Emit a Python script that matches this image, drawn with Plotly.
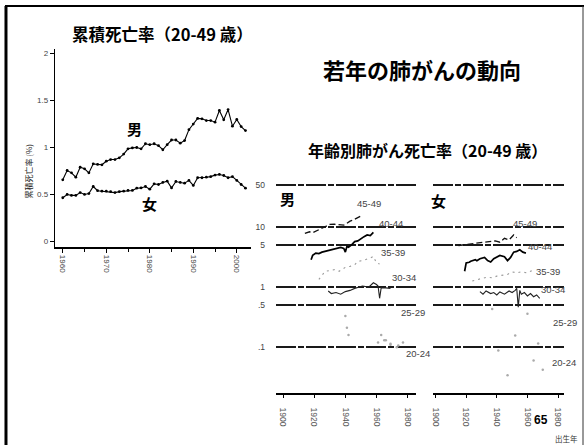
import math
import plotly.graph_objects as go

W, H = 585, 445

# ---------------- data ----------------
# Left chart: cumulative mortality (20-49 years), %
years = list(range(1960, 2003))
male_cum = [0.656, 0.755, 0.73, 0.684, 0.79, 0.773, 0.73, 0.826, 0.82, 0.816,
            0.854, 0.872, 0.872, 0.89, 0.93, 0.986, 0.996, 1.0, 0.986, 1.04,
            1.03, 1.04, 1.02, 0.976, 1.03, 1.08, 1.08, 1.046, 1.074, 1.19,
            1.25, 1.31, 1.305, 1.287, 1.287, 1.27, 1.394, 1.295, 1.404, 1.227,
            1.298, 1.223, 1.18]
female_cum = [0.465, 0.5, 0.49, 0.49, 0.52, 0.5, 0.51, 0.585, 0.54, 0.535,
              0.535, 0.53, 0.52, 0.53, 0.535, 0.543, 0.543, 0.567, 0.57, 0.585,
              0.556, 0.613, 0.606, 0.628, 0.642, 0.57, 0.638, 0.628, 0.62, 0.65,
              0.596, 0.678, 0.678, 0.684, 0.69, 0.706, 0.713, 0.702, 0.678, 0.69,
              0.65, 0.606, 0.567]
left_yticks = [0, 0.5, 1, 1.5, 2]
left_yticktext = ["0", "0.5", "1", "1.5", "2"]
left_xticks = [1960, 1970, 1980, 1990, 2000]

# Right chart: age-specific lung cancer mortality by birth year (log scale)
m45_x = [1914, 1917, 1919, 1921, 1924, 1927, 1930, 1933, 1936, 1939, 1941, 1943, 1945, 1947, 1949, 1951]
m45_y = [7.8, 8.3, 8.0, 8.5, 9.2, 10.1, 11.0, 11.1, 11.0, 10.7, 11.5, 12.5, 13.0, 13.8, 14.5, 15.7]
m40_x = [1918, 1919, 1921, 1923, 1925, 1928, 1931, 1934, 1937, 1939, 1940, 1941, 1942, 1944, 1946, 1948, 1950, 1952, 1954, 1956, 1958]
m40_y = [2.85, 3.36, 3.67, 3.6, 3.81, 4.0, 4.17, 4.44, 4.55, 4.4, 3.81, 4.72, 4.6, 5.03, 5.7, 5.86, 6.48, 6.9, 7.35, 7.2, 8.13]
m35_x = [1923, 1927, 1930, 1933, 1936, 1940, 1943, 1946, 1948, 1951, 1956, 1958, 1960, 1962]
m35_y = [1.34, 1.83, 1.88, 1.95, 1.83, 2.13, 2.21, 2.36, 2.68, 2.75, 3.04, 3.24, 2.51, 2.42]
m30_x = [1929, 1931, 1934, 1937, 1940, 1943, 1946, 1949, 1951, 1955, 1958, 1960, 1961, 1962, 1963, 1966, 1969]
m30_y = [0.86, 0.78, 0.81, 0.76, 0.84, 0.88, 0.95, 1.0, 1.04, 1.0, 1.18, 1.1, 1.04, 0.65, 0.97, 0.97, 0.95]
m25_x = [1940, 1941, 1942, 1963, 1966, 1969, 1974]
m25_y = [0.33, 0.21, 0.16, 0.16, 0.13, 0.114, 0.107]
m20_x = [1961, 1965, 1969, 1973, 1977]
m20_y = [0.12, 0.13, 0.11, 0.1, 0.12]

f45_x = [1915, 1918, 1921, 1924, 1929, 1932, 1935, 1939, 1942, 1945, 1948, 1951, 1953]
f45_y = [4.91, 5.03, 5.2, 5.36, 5.5, 5.6, 5.71, 5.86, 5.57, 6.48, 6.08, 7.35, 6.6]
f40_x = [1919, 1920, 1922, 1923, 1926, 1927, 1929, 1932, 1934, 1936, 1938, 1940, 1942, 1945, 1947, 1949, 1951, 1953, 1955, 1957, 1959]
f40_y = [1.83, 2.51, 2.58, 2.68, 2.85, 2.75, 2.96, 3.11, 2.75, 2.61, 2.96, 3.11, 3.36, 3.19, 2.75, 3.11, 3.81, 3.91, 4.17, 3.81, 3.67]
f35_x = [1924, 1927, 1930, 1934, 1937, 1940, 1943, 1947, 1950, 1953, 1956, 1960, 1963]
f35_y = [1.26, 1.34, 1.39, 1.46, 1.42, 1.52, 1.58, 1.62, 1.79, 1.72, 1.79, 1.72, 1.88]
f30_x = [1929, 1931, 1933, 1936, 1938, 1940, 1942, 1945, 1948, 1950, 1952, 1953, 1954, 1955, 1956, 1958, 1960, 1962, 1964, 1966, 1968]
f30_y = [0.84, 0.76, 0.86, 0.78, 0.81, 0.74, 0.83, 0.76, 0.86, 0.81, 0.88, 0.95, 0.46, 0.88, 0.76, 0.81, 0.71, 0.78, 0.69, 0.74, 0.65]
f25_x = [1937, 1941, 1952, 1960, 1967]
f25_y = [0.43, 0.088, 0.156, 0.36, 0.115]
f20_x = [1947, 1964, 1970]
f20_y = [0.034, 0.06, 0.042]

right_yticks = [50, 10, 5, 1, 0.5, 0.1]
right_yticktext = ["50", "10", "5", "1", ".5", ".1"]
right_xticks = [1900, 1920, 1940, 1960, 1980]
age_groups = ["45-49", "40-44", "35-39", "30-34", "25-29", "20-24"]

# ---------------- layout helpers ----------------
def fx(p):
    return p / W

def fy(p):
    return 1 - p / H

JP = "Noto Sans CJK JP"
SANS = "Liberation Sans, DejaVu Sans, sans-serif"
TICKFONT = dict(family=SANS, size=8, color="#444")

fig = go.Figure()

# Left chart
fig.add_trace(go.Scatter(x=years, y=male_cum, mode="lines+markers",
                         line=dict(color="black", width=1.1),
                         marker=dict(size=2.8, color="black"),
                         xaxis="x", yaxis="y", showlegend=False))
fig.add_trace(go.Scatter(x=years, y=female_cum, mode="lines+markers",
                         line=dict(color="black", width=1.1),
                         marker=dict(size=2.8, color="black"),
                         xaxis="x", yaxis="y", showlegend=False))

# Right chart: male (x2/y2), female (x3/y3)
def add_series(xs, ys, ax, style):
    fig.add_trace(go.Scatter(x=xs, y=ys, xaxis="x" + ax, yaxis="y" + ax,
                             showlegend=False, **style))

S45 = dict(mode="lines", line=dict(color="#111", width=1.3, dash="6px,3px"))
S40 = dict(mode="lines", line=dict(color="black", width=1.7))
S35 = dict(mode="lines", line=dict(color="#9a9a9a", width=1.1, dash="2px,4px"))
S30 = dict(mode="lines", line=dict(color="#222", width=1.1))
SLO = dict(mode="markers", marker=dict(size=2.5, color="#aaa"))

add_series(m45_x, m45_y, "2", S45)
add_series(m40_x, m40_y, "2", S40)
add_series(m35_x, m35_y, "2", S35)
add_series(m30_x, m30_y, "2", S30)
add_series(m25_x, m25_y, "2", SLO)
add_series(m20_x, m20_y, "2", SLO)
add_series(f45_x, f45_y, "3", S45)
add_series(f40_x, f40_y, "3", S40)
add_series(f35_x, f35_y, "3", S35)
add_series(f30_x, f30_y, "3", S30)
add_series(f25_x, f25_y, "3", SLO)
add_series(f20_x, f20_y, "3", SLO)

log_range = [math.log10(0.0172), math.log10(59)]
grid_common = dict(showgrid=True, gridcolor="#1a1a1a", gridwidth=1.6, griddash="20px,2px,6px,2px",
                   zeroline=False, showline=False, type="log", range=log_range,
                   tickvals=right_yticks, ticktext=right_yticktext,
                   domain=[fy(393), fy(180)])
xr_common = dict(showline=True, linecolor="black", linewidth=1.5, showgrid=False,
                 zeroline=False, ticks="outside", ticklen=3, tickcolor="black",
                 tickvals=right_xticks, tickangle=90, tickfont=dict(family=SANS, size=8.5, color="#555"),
                 ticklabelstandoff=8)

fig.update_layout(
    width=W, height=H, margin=dict(l=0, r=0, t=0, b=0),
    paper_bgcolor="white", plot_bgcolor="rgba(0,0,0,0)",
    xaxis=dict(domain=[fx(53), fx(250)], range=[1958.17, 2003.3],
               showline=True, linecolor="black", linewidth=1.5, showgrid=False, zeroline=False,
               ticks="outside", ticklen=4, tickcolor="black", tickvals=left_xticks,
               tickangle=90, tickfont=TICKFONT,
               minor=dict(dtick=5, tick0=1960, ticks="outside", ticklen=3, tickcolor="black"),
               anchor="y"),
    yaxis=dict(domain=[fy(247), fy(48)], range=[-0.064, 2.05],
               showline=True, linecolor="black", linewidth=1.2, showgrid=False, zeroline=False,
               ticks="outside", ticklen=4, tickcolor="black",
               tickvals=left_yticks, ticktext=left_yticktext, tickfont=TICKFONT,
               anchor="x"),
    xaxis2=dict(domain=[fx(275), fx(415)], range=[1895.5, 1985.1], anchor="y2", **xr_common),
    yaxis2=dict(anchor="x2", showticklabels=True, ticks="", ticklabelstandoff=10,
                tickfont=dict(family=SANS, size=8.5, color="#444"), **grid_common),
    xaxis3=dict(domain=[fx(432), fx(564)], range=[1898.05, 1983.9], anchor="y3", **xr_common),
    yaxis3=dict(anchor="x3", showticklabels=False, ticks="", **grid_common),
)

ann = []
def text(x, y, s, size, bold=False, family=JP, color="black", xref="paper", yref="paper",
         xanchor="center", angle=0):
    ann.append(dict(x=x, y=y, xref=xref, yref=yref, text=("<b>%s</b>" % s) if bold else s,
                    showarrow=False, xanchor=xanchor, yanchor="middle", textangle=angle,
                    font=dict(family=family, size=size, color=color)))

text(fx(161), fy(33), "累積死亡率（20-49 歳）", 16.5, bold=True)
text(fx(421), fy(68), "若年の肺がんの動向", 22, bold=True)
text(fx(427), fy(149), "年齢別肺がん死亡率（20-49 歳）", 16, bold=True)
text(fx(27), fy(170), "累積死亡率 (%)", 8, angle=-90, color="#222")
text(1976.5, 1.2, "男", 15, bold=True, xref="x", yref="y")
text(1980, 0.40, "女", 15, bold=True, xref="x", yref="y")
text(fx(286), fy(198), "男", 15, bold=True)
text(fx(438), fy(200), "女", 15, bold=True)

male_lab = [(368, 203), (390, 223), (392, 252), (403, 277), (412, 312), (417, 353)]
female_lab = [(525, 223), (540, 246), (548, 271), (553, 289), (565, 322), (564, 362)]
for lab, (px, py) in zip(age_groups, male_lab):
    text(fx(px), fy(py), lab, 9.5, family=SANS, color="#444")
for lab, (px, py) in zip(age_groups, female_lab):
    text(fx(px), fy(py), lab, 9.5, family=SANS, color="#444")

text(fx(541), fy(420), "65", 12, bold=True, family=SANS)
text(fx(566), fy(438), "出生年", 7.5, color="#333")

fig.update_layout(annotations=ann)

# page frame
fig.add_shape(type="line", xref="paper", yref="paper", x0=fx(4), x1=fx(4), y0=-0.05, y1=fy(5),
              line=dict(color="black", width=3))
fig.add_shape(type="line", xref="paper", yref="paper", x0=fx(3), x1=fx(584), y0=fy(5), y1=fy(5),
              line=dict(color="black", width=2))
fig.add_shape(type="line", xref="paper", yref="paper", x0=fx(583), x1=fx(583), y0=-0.05, y1=fy(5),
              line=dict(color="#333", width=1))

fig.write_html("out.html", config={"displayModeBar": False},
               post_script="document.body.style.margin='0';document.body.style.overflow='hidden';")
